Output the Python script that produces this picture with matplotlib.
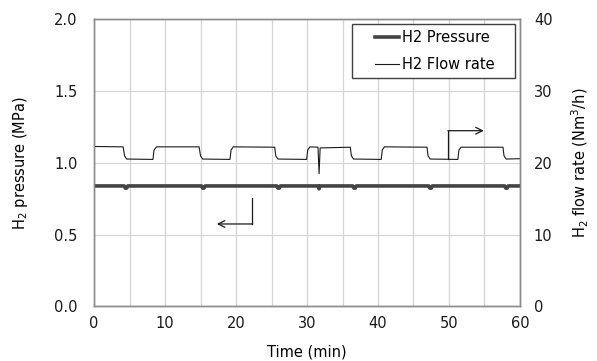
import matplotlib
matplotlib.use("Agg")
import matplotlib.pyplot as plt
from matplotlib.lines import Line2D
from matplotlib.patches import Rectangle

# H2 flow rate (Nm3/h), breakpoints of the step pattern
flow_t = [0, 4.1, 4.3, 4.6, 8.3, 8.45, 8.8, 14.8, 15.0, 15.3, 19.15, 19.3, 19.6,
          25.45, 25.6, 25.9, 29.95, 30.1, 30.4, 31.55, 31.7, 31.85, 36.1, 36.25,
          36.55, 40.45, 40.6, 40.9, 46.9, 47.05, 47.35, 51.25, 51.4, 51.7, 57.6,
          57.75, 58.05, 60]
flow_v = [22.3, 22.25, 21.0, 20.55, 20.5, 21.8, 22.25, 22.25, 21.0, 20.55, 20.5,
          21.8, 22.25, 22.2, 21.0, 20.55, 20.5, 21.8, 22.25, 22.2, 18.5, 22.1,
          22.2, 21.0, 20.55, 20.5, 21.8, 22.25, 22.2, 21.0, 20.55, 20.5, 21.8,
          22.2, 22.2, 21.0, 20.55, 20.6]

# H2 pressure (MPa), flat with small notches at each flow change
pres_t = [0, 4.25, 4.4, 4.6, 4.75, 15.15, 15.3, 15.5, 15.65, 25.75, 25.9, 26.1,
          26.25, 31.6, 31.7, 31.8, 36.45, 36.6, 36.8, 36.95, 47.15, 47.3, 47.5,
          47.65, 57.85, 58.0, 58.2, 58.35, 60]
pres_v = [0.84, 0.84, 0.825, 0.825, 0.84, 0.84, 0.825, 0.825, 0.84, 0.84, 0.825,
          0.825, 0.84, 0.84, 0.82, 0.84, 0.84, 0.825, 0.825, 0.84, 0.84, 0.825,
          0.825, 0.84, 0.84, 0.825, 0.825, 0.84, 0.84]

x_ticks = [0, 10, 20, 30, 40, 50, 60]
p_ticks = [0.0, 0.5, 1.0, 1.5, 2.0]
f_ticks = [0, 10, 20, 30, 40]

plt.rcParams['font.family'] = ['DejaVu Sans']
fs = 10.5

fig = plt.figure(figsize=(5.97, 3.61), dpi=100)
ax = fig.add_axes([0.1575, 0.151, 0.7135, 0.795])
ax2 = ax.twinx()

ax.set_xlim(0, 60)
ax.set_ylim(0, 2.0)
ax2.set_ylim(0, 40)

ax.set_xticks(x_ticks)
ax.set_xticks(range(5, 60, 10), minor=True)
ax.set_yticks(p_ticks)
ax.set_yticklabels(['%.1f' % v for v in p_ticks])
ax2.set_yticks(f_ticks)

ax.grid(True, which='both', axis='x', color='#d4d4d4', lw=0.9)
ax.grid(True, axis='y', color='#d4d4d4', lw=0.9)
ax.set_axisbelow(True)

for a in (ax, ax2):
    a.tick_params(length=0, labelsize=fs, colors='#1a1a1a')
    a.tick_params(which='minor', length=0)
    for s in a.spines.values():
        s.set_color('#8c8c8c')
        s.set_linewidth(1.0)
ax.tick_params(axis='y', pad=12)
ax2.tick_params(axis='y', pad=10)
ax.tick_params(axis='x', pad=7)

ax.plot(pres_t, pres_v, color='#444444', lw=2.6, zorder=3)
ax2.plot(flow_t, flow_v, color='#1a1a1a', lw=0.8)

ax.set_xlabel('Time (min)', fontsize=fs)
ax.xaxis.set_label_coords(0.5, -0.134)
ax.set_ylabel(r'H$_2$ pressure (MPa)', fontsize=fs)
ax.yaxis.set_label_coords(-0.15, 0.5)
ax2.set_ylabel(r'H$_2$ flow rate (Nm$^3$/h)', fontsize=fs)
ax2.yaxis.set_label_coords(1.118, 0.5)

# direction arrows
ax.plot([22.3, 22.3], [0.755, 0.575], color='#1a1a1a', lw=0.9)
ax.annotate('', xy=(17.3, 0.575), xytext=(22.35, 0.575),
            arrowprops=dict(arrowstyle='->', color='#1a1a1a', lw=0.9,
                            shrinkA=0, shrinkB=0, mutation_scale=12))
ax.plot([49.9, 49.9], [1.025, 1.225], color='#1a1a1a', lw=0.9)
ax.annotate('', xy=(54.9, 1.225), xytext=(49.85, 1.225),
            arrowprops=dict(arrowstyle='->', color='#1a1a1a', lw=0.9,
                            shrinkA=0, shrinkB=0, mutation_scale=12))

# legend box drawn by hand, wider than its content like the original
box = Rectangle((0.605, 0.797), 0.384, 0.186, transform=ax2.transAxes,
                facecolor='white', edgecolor='#404040', lw=1.0, zorder=5)
ax2.add_patch(box)
handles = [Line2D([], [], color='#444444', lw=2.6),
           Line2D([], [], color='#1a1a1a', lw=0.8)]
leg = ax2.legend(handles, ['H2 Pressure', 'H2 Flow rate'], loc='center',
                 bbox_to_anchor=(0.8, 0.89), borderaxespad=0, fontsize=fs,
                 frameon=False, handlelength=1.6, handletextpad=0.2,
                 borderpad=0, labelspacing=0.8)
leg.set_zorder(6)

fig.savefig('out.png', dpi=100)
